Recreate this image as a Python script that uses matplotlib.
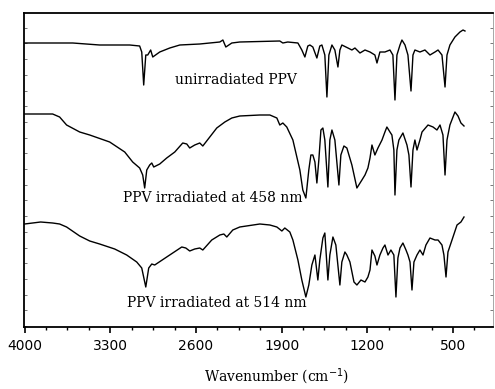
import matplotlib
matplotlib.use('Agg')
import matplotlib.pyplot as plt
from matplotlib.ticker import FixedLocator, MultipleLocator, NullFormatter
import numpy as np

# wavenumber (cm-1) / transmittance (arb. units, traces offset)
wn_unirr = [4000, 3607, 3387, 3141, 3060, 3043, 3027, 3010, 2994, 2970, 2953, 2896, 2814,
            2732, 2569, 2405, 2380, 2356, 2307, 2242, 1915, 1890, 1850, 1767, 1735, 1710,
            1686, 1669, 1645, 1612, 1588, 1571, 1547, 1530, 1514, 1489, 1465, 1440, 1424,
            1408, 1358, 1326, 1301, 1260, 1219, 1178, 1138, 1121, 1097, 1056, 1015, 991,
            974, 958, 933, 917, 892, 868, 843, 827, 811, 770, 729, 688, 647, 622, 590, 565,
            549, 525, 484, 443, 418, 402]
t_unirr = [283, 283, 281, 281, 280, 274, 241, 271, 271, 276, 269, 274, 278,
           281, 282, 284, 286, 279, 283, 284, 285, 283, 284, 283, 276, 269,
           280, 281, 279, 268, 280, 281, 271, 229, 271, 281, 276, 259, 276,
           281, 278, 276, 278, 273, 276, 274, 271, 263, 274, 274, 276, 271,
           226, 271, 281, 286, 281, 271, 235, 271, 276, 274, 276, 271, 274, 276, 271, 239,
           271, 281, 289, 294, 296, 295]

wn_458 = [4000, 3771, 3714, 3657, 3550, 3468, 3305, 3182, 3117, 3060, 3035, 3019, 3002,
          2978, 2961, 2945, 2896, 2839, 2773, 2708, 2675, 2651, 2610, 2569, 2544, 2487,
          2430, 2364, 2307, 2242, 2078, 1996, 1939, 1915, 1890, 1858, 1808, 1751, 1727,
          1702, 1678, 1661, 1645, 1628, 1612, 1596, 1579, 1563, 1547, 1522, 1506, 1489,
          1465, 1432, 1416, 1391, 1367, 1326, 1285, 1244, 1219, 1195, 1178, 1162, 1138,
          1113, 1080, 1056, 1040, 1015, 999, 983, 974, 958, 942, 909, 876, 860, 843, 827,
          811, 794, 770, 753, 704, 663, 631, 606, 582, 565, 549, 525, 484, 459, 435, 410]
t_458 = [212, 212, 209, 201, 194, 191, 184, 174, 164, 158, 151, 138, 156,
         161, 163, 159, 162, 168, 174, 183, 182, 178, 181, 183, 180, 189,
         198, 204, 208, 210, 211, 211, 208, 201, 203, 199, 186, 156, 136,
         128, 156, 171, 171, 164, 143, 166, 196, 198, 186, 139, 186, 196,
         186, 141, 171, 180, 178, 161, 138, 146, 151, 158, 168, 181, 171,
         178, 186, 194, 199, 194, 191, 176, 131, 176, 186, 193, 181, 171, 139, 176,
         186, 176, 186, 194, 201, 199, 196, 201, 191, 151, 186, 201, 214, 210, 203, 200]

wn_514 = [4000, 3869, 3771, 3714, 3657, 3550, 3468, 3387, 3264, 3166, 3084, 3043, 3010,
          2986, 2961, 2937, 2839, 2716, 2683, 2651, 2610, 2569, 2544, 2471, 2405, 2372,
          2348, 2299, 2242, 2078, 1996, 1939, 1898, 1874, 1833, 1808, 1767, 1735, 1702,
          1678, 1653, 1628, 1604, 1588, 1563, 1547, 1522, 1506, 1481, 1457, 1424, 1408,
          1383, 1367, 1342, 1309, 1285, 1252, 1219, 1195, 1178, 1162, 1138, 1121, 1097,
          1072, 1056, 1031, 1007, 983, 966, 950, 933, 909, 884, 868, 851, 835, 819, 794,
          770, 745, 721, 688, 647, 622, 590, 574, 557, 541, 508, 467, 435, 410]
t_514 = [102, 104, 103, 102, 99, 90, 85, 82, 77, 71, 64, 58, 39,
         58, 62, 61, 69, 79, 78, 75, 77, 78, 76, 86, 91, 92,
         89, 96, 99, 102, 101, 99, 95, 98, 94, 86, 66, 46, 29,
         41, 61, 71, 46, 66, 88, 93, 46, 71, 89, 81, 41, 64,
         74, 71, 64, 44, 41, 46, 44, 49, 56, 76, 70, 61, 71,
         78, 81, 71, 76, 71, 29, 68, 78, 83, 76, 71, 64, 36, 64, 71,
         76, 71, 81, 88, 86, 86, 81, 71, 49, 74, 86, 101, 104, 109]

major_ticks = [4000, 3300, 2600, 1900, 1200, 500]
minor_ticks = [w for w in np.arange(325, 4000, 175) if w not in major_ticks]

fig = plt.figure(figsize=(4.95, 3.89), dpi=100)
ax = fig.add_axes([24 / 495, 1 - 327 / 389, 469 / 495, 314 / 389])

for wn, t in [(wn_unirr, t_unirr), (wn_458, t_458), (wn_514, t_514)]:
    ax.plot(wn, t, color='black', lw=1.0)

ax.set_xlim(4005, 173)
ax.set_ylim(-1, 313)

ax.xaxis.set_major_locator(FixedLocator(major_ticks))
ax.xaxis.set_minor_locator(FixedLocator(minor_ticks))
ax.tick_params(axis='x', which='major', direction='out', length=4, width=1.2,
               pad=5, labelsize=10)
ax.tick_params(axis='x', which='minor', direction='out', length=2.5, width=1.0)
for lab in ax.get_xticklabels():
    lab.set_family('DejaVu Sans')

ax.yaxis.set_major_locator(MultipleLocator(15.7))
ax.yaxis.set_major_formatter(NullFormatter())
ax.tick_params(axis='y', which='major', direction='in', length=2, width=0.7,
               left=True, right=True, color='#777777')

for side in ['left', 'bottom', 'top']:
    ax.spines[side].set_linewidth(1.3)
ax.spines['right'].set_linewidth(0.6)
ax.spines['right'].set_color('#999999')

txt = dict(family='DejaVu Serif', fontsize=10, va='center', ha='left')
ax.text(2773, 246, 'unirradiated PPV', **txt)
ax.text(3199, 128, 'PPV irradiated at 458 nm', **txt)
ax.text(3166, 23, 'PPV irradiated at 514 nm', **txt)

fig.text(277 / 495, 1 - 377 / 389, r'Wavenumber (cm$^{-1}$)', family='DejaVu Serif',
         fontsize=10, ha='center', va='center')

plt.savefig('out.png', dpi=100)
